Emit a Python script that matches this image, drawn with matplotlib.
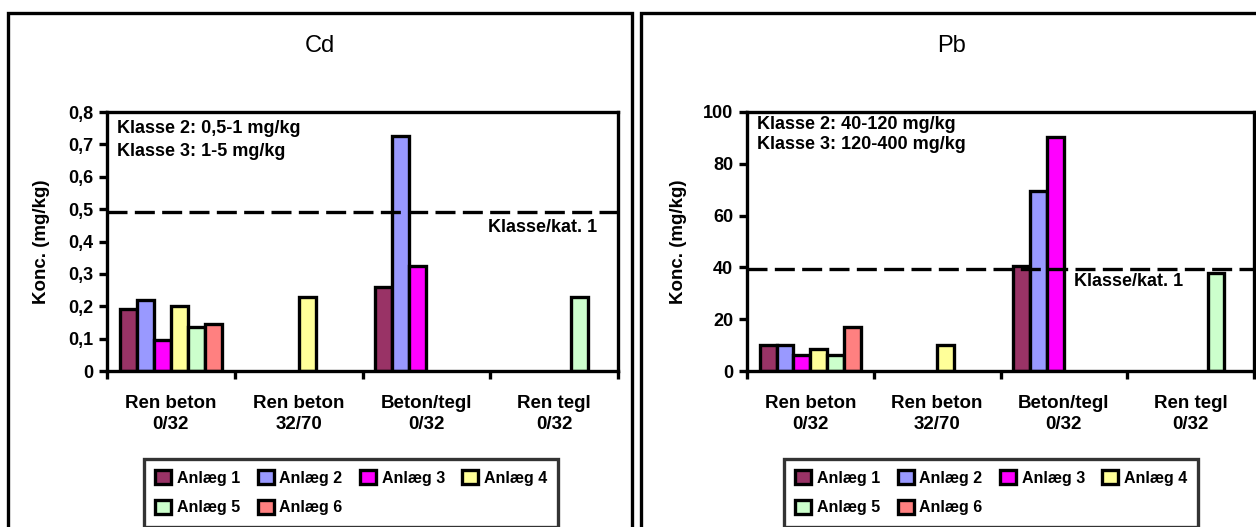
import matplotlib

matplotlib.use("Agg")
import matplotlib.pyplot as plt
import numpy as np
from matplotlib.patches import Patch, Rectangle

plt.rcParams["font.family"] = ["Liberation Sans", "DejaVu Sans"]
plt.rcParams["font.weight"] = "bold"
plt.rcParams["axes.labelweight"] = "bold"

W, H = 1256, 527

categories = ["Ren beton\n0/32", "Ren beton\n32/70", "Beton/tegl\n0/32", "Ren tegl\n0/32"]
anlaeg = ["Anlæg 1", "Anlæg 2", "Anlæg 3", "Anlæg 4", "Anlæg 5", "Anlæg 6"]
colors = ["#993366", "#9999FF", "#FF00FF", "#FFFF99", "#CCFFCC", "#FF8080"]

nan = np.nan
# en række pr. anlæg, en kolonne pr. materiale (nan = ingen prøve)
cd = [
    [0.19, nan, 0.26, nan],
    [0.22, nan, 0.725, nan],
    [0.095, nan, 0.325, nan],
    [0.20, 0.23, nan, nan],
    [0.135, nan, nan, 0.23],
    [0.145, nan, nan, nan],
]
pb = [
    [10, nan, 40.5, nan],
    [10, nan, 69.5, nan],
    [6.3, nan, 90.5, nan],
    [8.6, 10, nan, nan],
    [6.1, nan, nan, 38],
    [17, nan, nan, nan],
]

cd_ticks = [0, 0.1, 0.2, 0.3, 0.4, 0.5, 0.6, 0.7, 0.8]
pb_ticks = [0, 20, 40, 60, 80, 100]
cd_grense = 0.49
pb_grense = 39.4
cd_klasser = ["Klasse 2: 0,5-1 mg/kg", "Klasse 3: 1-5 mg/kg"]
pb_klasser = ["Klasse 2: 40-120 mg/kg", "Klasse 3: 120-400 mg/kg"]

LW = 2.4  # tykke sorte streger
FS = 13


def fx(px):
    return px / W


def fy(py):
    return 1 - py / H


def draw_panel(fig, box, ax_px, title, values, ticks, tick_fmt, grense,
               klasser, klasse_y, kat_xy, kat_ha, ylabel_x, legend_x, line_end):
    # ramme om hele diagrammet
    x0, y0, x1, y1 = box
    fig.patches.append(Rectangle((fx(x0), fy(y1)), fx(x1 - x0), (y1 - y0) / H,
                                 transform=fig.transFigure, fill=False,
                                 edgecolor="black", linewidth=LW))
    fig.text(fx((x0 + x1) / 2), fy(46), title, ha="center", va="center",
             fontsize=17, fontweight="normal")

    l, t, r, b = ax_px
    ax = fig.add_axes([fx(l), fy(b), fx(r - l), (b - t) / H])
    n = len(values)
    w = 0.8 / n
    x = np.arange(len(categories))
    for i, (vals, c) in enumerate(zip(values, colors)):
        vals = np.asarray(vals, dtype=float)
        ok = ~np.isnan(vals)
        ax.bar(x[ok] + (i - (n - 1) / 2) * w, vals[ok], width=w, color=c,
               edgecolor="black", linewidth=LW, zorder=2)

    ax.set_xlim(-0.5, len(categories) - 0.5)
    ax.set_ylim(ticks[0], ticks[-1])
    ax.set_xticks(np.arange(len(categories) + 1) - 0.5)
    ax.set_xticklabels([])
    ax.set_xticks(x, minor=True)
    ax.set_xticklabels(categories, minor=True, fontsize=13.5, linespacing=1.3)
    ax.tick_params(axis="x", which="minor", length=0, pad=17)
    ax.set_yticks(ticks)
    ax.set_yticklabels([tick_fmt(v) for v in ticks], fontsize=FS)
    ax.tick_params(which="major", direction="out", length=6, width=LW)
    ax.tick_params(axis="y", pad=4)
    for s in ax.spines.values():
        s.set_linewidth(LW)

    ax.set_ylabel("Konc. (mg/kg)", fontsize=13.5, fontweight="bold")
    ax.yaxis.set_label_coords(ylabel_x, 0.5)

    ax.plot([0, line_end], [grense, grense], transform=ax.get_yaxis_transform(),
            color="black", linewidth=LW, linestyle=(0, (6, 2.2)),
            clip_on=False, zorder=3)
    ax.text(kat_xy[0], kat_xy[1], "Klasse/kat. 1", transform=ax.transAxes,
            ha=kat_ha, va="center", fontsize=FS)
    for txt, yy in zip(klasser, klasse_y):
        ax.text(0.02, yy, txt, transform=ax.transAxes, ha="left", va="center",
                fontsize=FS)

    # rækkefølge så legenden fyldes række for række
    handles = [Patch(facecolor=c, edgecolor="black", linewidth=LW) for c in colors]
    order = [0, 4, 1, 5, 2, 3]
    leg = ax.legend([handles[i] for i in order], [anlaeg[i] for i in order],
                    loc="upper left", bbox_to_anchor=(fx(legend_x), fy(459)),
                    bbox_transform=fig.transFigure, ncol=4,
                    prop={"size": 11.5, "weight": "bold"},
                    frameon=True, fancybox=False, handlelength=1.0,
                    handleheight=1.0, handletextpad=0.35, columnspacing=1.1,
                    labelspacing=0.875, borderpad=0.7, borderaxespad=0)
    leg.get_frame().set_linewidth(LW)
    leg.get_frame().set_edgecolor("black")
    return ax


fig = plt.figure(figsize=(W / 100, H / 100), dpi=100)

draw_panel(fig, (8, 13, 632, 545), (107, 112, 618, 371), "Cd", cd, cd_ticks,
           lambda v: "0" if v == 0 else f"{v:.1f}".replace(".", ","),
           cd_grense, cd_klasser, (0.938, 0.846), (0.96, 0.555), "right",
           -0.112, 144, 1.016)
draw_panel(fig, (641, 13, 1262, 545), (747, 112, 1254, 371), "Pb", pb, pb_ticks,
           lambda v: f"{v:d}", pb_grense, pb_klasser, (0.95, 0.873),
           (0.645, 0.345), "left", -0.118, 784, 1.03)

fig.savefig("out.png", dpi=100)
